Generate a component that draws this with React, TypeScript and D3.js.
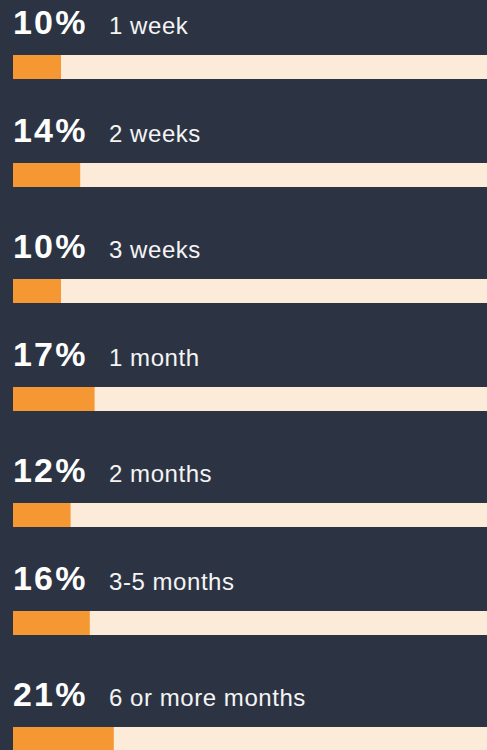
import React from "react";
import * as d3 from "d3";

const categories = ["1 week", "2 weeks", "3 weeks", "1 month", "2 months", "3-5 months", "6 or more months"];
const values = [10, 14, 10, 17, 12, 16, 21];

const W = 487;
const H = 750;

export default function App() {
  const x = d3.scaleLinear().domain([0, 100]).range([13, 493]);
  const rowTop = (i: number) => 55 + 112 * i - 4 * (i % 2);
  const barH = 24;
  return (
    <svg
      width={W}
      height={H}
      style={{ position: "fixed", left: 0, top: 0, display: "block" }}
    >
      <rect x={0} y={0} width={W} height={H} fill="#2c3444" />
      {categories.map((c, i) => {
        const y = rowTop(i);
        return (
          <g key={c}>
            <text
              x={13}
              y={y - 21}
              fill="#ffffff"
              fontFamily="Liberation Sans, Arial, sans-serif"
              fontWeight="bold"
              fontSize={34}
              letterSpacing={2.2}
            >
              {d3.format("d")(values[i])}%
            </text>
            <text
              x={109}
              y={y - 21}
              fill="#f4f4f4"
              fontFamily="Liberation Sans, Arial, sans-serif"
              fontSize={24}
              letterSpacing={0.55}
            >
              {c}
            </text>
            <rect x={x(0)} y={y} width={x(100) - x(0)} height={barH} fill="#fdebd9" />
            <rect x={x(0)} y={y} width={x(values[i]) - x(0)} height={barH} fill="#f59834" />
          </g>
        );
      })}
    </svg>
  );
}
